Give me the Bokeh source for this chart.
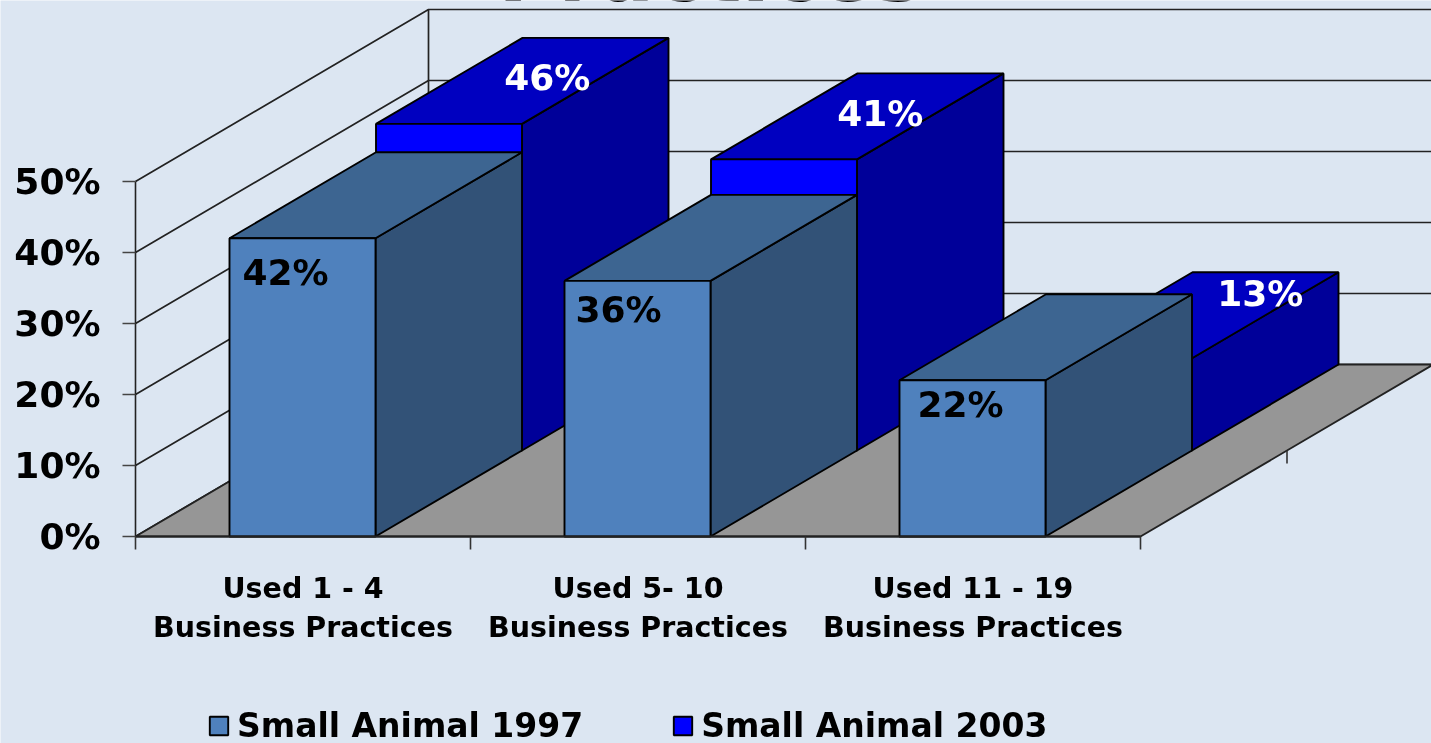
from bokeh.plotting import figure
from bokeh.embed import file_html
from bokeh.resources import INLINE
from bokeh.core.properties import value
from bokeh.models import Range1d, FixedTicker, Legend, LegendItem

# ---- data ----
title_text = "Practices"
categories = ["Used 1 - 4\nBusiness Practices", "Used 5- 10\nBusiness Practices", "Used 11 - 19\nBusiness Practices"]
series_1997 = [42, 36, 22]
series_2003 = [46, 41, 13]
name_1997 = "Small Animal 1997"
name_2003 = "Small Animal 2003"
y_ticks = [0, 10, 20, 30, 40, 50]
y_tick_labels = ["0%", "10%", "20%", "30%", "40%", "50%"]

# ---- geometry of the oblique projection ----
W, H = 1431, 743
LEFT, BASE = 135, 536
PX_CAT = 335.0      # pixels per category
PX_PCT = 7.1        # pixels per percentage point
DX = 146.5 / PX_CAT # one depth row, in category units
DY = 86.0 / PX_PCT  # one depth row, in percentage units
BAR_X = 94.0 / PX_CAT
BAR_W = 146.0 / PX_CAT
FONT = "DejaVu Sans"
BG = "#dce6f2"
BLACK = "#000000"
LW = 1.9

def proj(x, depth, v):
    return x + depth * DX, v + depth * DY

def box(i, depth, v):
    x0, x1 = i + BAR_X, i + BAR_X + BAR_W
    fx = [x0, x1, x1, x0]
    fy = [0, 0, v, v]
    front = ([proj(a, depth, 0)[0] for a in [x0, x1, x1, x0]],
             [proj(a, depth, b)[1] for a, b in zip(fx, fy)])
    top = ([proj(x0, depth, v)[0], proj(x1, depth, v)[0], proj(x1, depth + 1, v)[0], proj(x0, depth + 1, v)[0]],
           [proj(x0, depth, v)[1], proj(x1, depth, v)[1], proj(x1, depth + 1, v)[1], proj(x0, depth + 1, v)[1]])
    side = ([proj(x1, depth, 0)[0], proj(x1, depth + 1, 0)[0], proj(x1, depth + 1, v)[0], proj(x1, depth, v)[0]],
            [proj(x1, depth, 0)[1], proj(x1, depth + 1, 0)[1], proj(x1, depth + 1, v)[1], proj(x1, depth, v)[1]])
    return front, top, side

p = figure(width=W, height=H, output_backend="svg", toolbar_location=None,
           x_range=Range1d(-LEFT / PX_CAT, (W - LEFT) / PX_CAT), y_range=Range1d(-(H - BASE) / PX_PCT, BASE / PX_PCT),
           min_border_left=0, min_border_right=0, min_border_top=0, min_border_bottom=0,
           background_fill_color=BG, border_fill_color=BG, outline_line_color=None)
p.styles = {"position": "fixed", "left": "0", "top": "0"}
p.grid.visible = False

# axes, held at the chart's origin inside the frame
p.yaxis.fixed_location = 0
p.yaxis.ticker = FixedTicker(ticks=y_ticks)
p.yaxis.major_label_overrides = dict(zip(y_ticks, y_tick_labels))
p.yaxis.bounds = (0, 50)
p.yaxis.major_tick_out = 13
p.yaxis.major_tick_in = 0
p.yaxis.minor_tick_line_color = None
p.yaxis.axis_line_color = "#222222"
p.yaxis.axis_line_width = 1.6
p.yaxis.major_tick_line_color = "#444444"
p.yaxis.major_tick_line_width = 1.6
p.yaxis.major_label_standoff = 22
p.yaxis.major_label_text_font = FONT
p.yaxis.major_label_text_font_style = "bold"
p.yaxis.major_label_text_font_size = "36px"
p.yaxis.major_label_text_color = BLACK

centres = [i + 0.5 for i in range(len(categories))]
edges = list(range(len(categories) + 1))
p.xaxis.fixed_location = 0
p.xaxis.ticker = FixedTicker(ticks=centres, minor_ticks=edges)
p.xaxis.major_label_overrides = dict(zip(centres, categories))
p.xaxis.bounds = (0, 3)
p.xaxis.major_tick_line_color = None
p.xaxis.major_tick_out = 13
p.xaxis.major_tick_in = 0
p.xaxis.minor_tick_out = 13
p.xaxis.minor_tick_in = 0
p.xaxis.minor_tick_line_color = "#333333"
p.xaxis.minor_tick_line_width = 1.6
p.xaxis.axis_line_color = "#222222"
p.xaxis.axis_line_width = 1.8
p.xaxis.major_label_standoff = 22
p.xaxis.major_label_text_font = FONT
p.xaxis.major_label_text_font_style = "bold"
p.xaxis.major_label_text_font_size = "28.5px"
p.xaxis.major_label_text_color = BLACK
p.xaxis.major_label_text_line_height = 1.2

# walls
xs, ys = [], []
for v in y_ticks:
    bx, by = proj(0, 2, v)
    xs.append([0, bx, 3 + 2 * DX])
    ys.append([v, by, by])
xs.append([2 * DX, 2 * DX])
ys.append([2 * DY, 50 + 2 * DY])
p.multi_line(xs, ys, line_color="#222222", line_width=1.7)

# floor
p.patch([0, 3, 3 + 2 * DX, 2 * DX], [0, 0, 2 * DY, 2 * DY], fill_color="#969696", line_color="#222222", line_width=LW)
tx, ty = proj(3, 1, 0)
p.segment([tx], [ty], [tx], [ty - 13 / PX_PCT], line_color="#333333", line_width=1.6)

# bars, back row first
def draw(series, depth, cf, ct, cs):
    fr, to, si = [], [], []
    for i, v in enumerate(series):
        a, b, c = box(i, depth, v)
        fr.append(a); to.append(b); si.append(c)
    p.patches([s[0] for s in si], [s[1] for s in si], fill_color=cs, line_color=BLACK, line_width=LW)
    p.patches([s[0] for s in to], [s[1] for s in to], fill_color=ct, line_color=BLACK, line_width=LW)
    return p.patches([s[0] for s in fr], [s[1] for s in fr], fill_color=cf, line_color=BLACK, line_width=LW)

r03 = draw(series_2003, 1, "#0000ff", "#0000c0", "#000099")
r97 = draw(series_1997, 0, "#4f81bd", "#3d6591", "#325277")

# data labels
off_97 = [(-17, 34), (-19, 29), (-12, 24)]
lx, ly, lt = [], [], []
for i, v in enumerate(series_1997):
    lx.append(i + BAR_X + BAR_W / 2 + off_97[i][0] / PX_CAT)
    ly.append(v - off_97[i][1] / PX_PCT)
    lt.append(f"{v}%")
p.text(lx, ly, lt, text_color=BLACK, text_font=value(FONT), text_font_style="bold",
       text_font_size="36px", text_align="center", text_baseline="middle")

off_03 = [(25, 3), (23, 3), (68, 22)]
lx, ly, lt = [], [], []
for i, v in enumerate(series_2003):
    cx, cy = proj(i + BAR_X + BAR_W / 2, 1.5, v)
    lx.append(cx + off_03[i][0] / PX_CAT)
    ly.append(cy + off_03[i][1] / PX_PCT)
    lt.append(f"{v}%")
p.text(lx, ly, lt, text_color="#ffffff", text_font=value(FONT), text_font_style="bold",
       text_font_size="36px", text_align="center", text_baseline="middle")

# title, cropped by the top edge
p.text([(710 - LEFT) / PX_CAT], [(BASE + 28) / PX_PCT], [title_text], text_color=BLACK, text_font=value(FONT),
       text_font_style="bold", text_font_size="82px", text_align="center", text_baseline="alphabetic")

# legend
legend = Legend(items=[LegendItem(label=value(name_1997), renderers=[r97]),
                       LegendItem(label=value(name_2003), renderers=[r03])],
                orientation="horizontal", location=(207, -2), margin=0, padding=0,
                spacing=88, glyph_width=23, glyph_height=23, label_standoff=7,
                background_fill_alpha=0, border_line_color=None,
                label_text_font=FONT, label_text_font_style="bold", label_text_font_size="33px",
                label_text_color=BLACK)
p.add_layout(legend)

open("out.html", "w").write(file_html(p, INLINE))
